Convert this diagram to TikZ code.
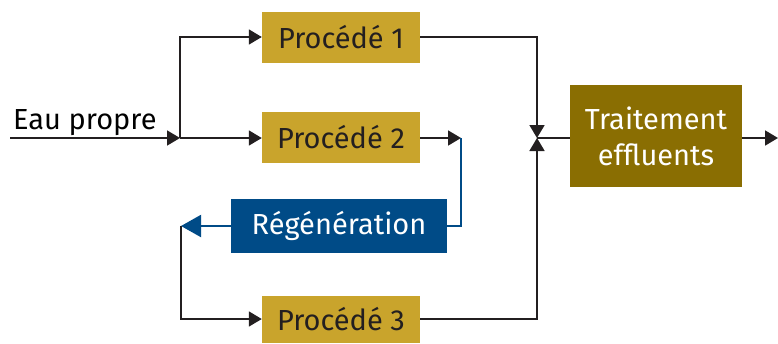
\documentclass[tikz,border=0pt]{standalone}
\usepackage{fontspec}
\setmainfont{Fira Sans}
\usetikzlibrary{arrows.meta}
\definecolor{gold}{HTML}{C9A42C}
\definecolor{olive}{HTML}{8A6E02}
\definecolor{regblue}{HTML}{004B87}
\definecolor{ink}{HTML}{231F20}
\begin{document}
\begin{tikzpicture}[x=1pt,y=-1pt,
  font=\fontsize{29}{33}\selectfont,
  proc/.style={fill=gold,text=ink,minimum width=158pt,minimum height=51pt,inner sep=0pt},
  flow/.style={draw=ink,line width=1.8pt,-{Triangle[length=13pt,width=15pt]}},
  plain/.style={draw=ink,line width=1.8pt},
  bflow/.style={draw=regblue,line width=2pt}]
\useasboundingbox (0,0) rectangle (778,343);
\node[proc] (p1) at (341,37) {Procédé 1};
\node[proc] (p2) at (341,137) {Procédé 2};
\node[proc,minimum height=47pt] (p3) at (341,319) {Procédé 3};
\node[fill=regblue,text=white,minimum width=216pt,minimum height=54pt,inner sep=0pt] (reg) at (339,226) {Régénération};
\node[fill=olive,text=white,minimum width=172pt,minimum height=102pt,inner sep=0pt,align=center,font=\fontsize{29}{36}\selectfont] (tr) at (656,136) {Traitement\\effluents};
\node[anchor=base west,inner sep=0pt] (eau) at (13,129) {Eau propre};
\coordinate (in) at (10,138);
\coordinate (split) at (180,138);
\coordinate (loop) at (181,226);
\coordinate (merge) at (537,138);
\coordinate (p2out) at (461,138);
\coordinate (out) at (778,138);
\path[flow] (in) -- (split);
\path[flow] (split) |- (p1.west);
\path[flow] (split) -- (p2.west |- split);
\path[flow] (p1.east) -| (merge);
\path[flow] (p3.east) -| (merge);
\path[plain] (merge) -- (tr.west |- merge);
\path[flow] (tr.east |- merge) -- (out);
\path[flow] (p2.east |- p2out) -- (p2out);
\path[bflow] (p2out) |- (reg.east);
\path[bflow,-{Triangle[length=20pt,width=22pt,fill=regblue]}] (reg.west) -- (loop);
\path[flow] (loop) |- (p3.west);
\end{tikzpicture}
\end{document}
